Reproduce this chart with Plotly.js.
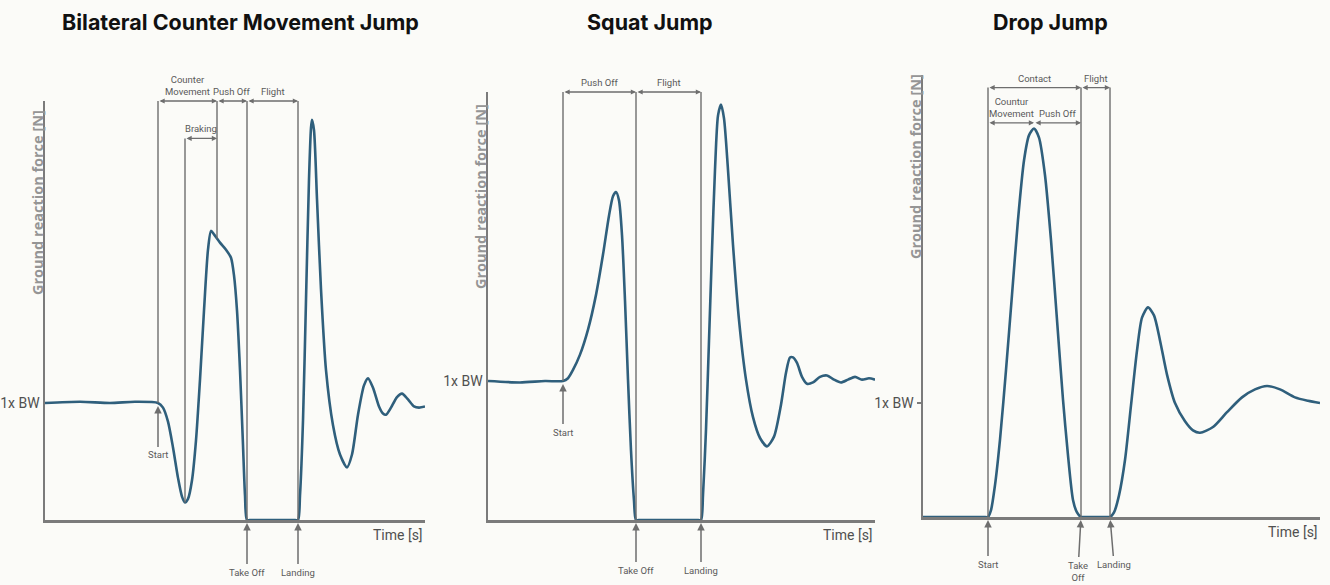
<!DOCTYPE html>
<html>
<head>
<meta charset="utf-8">
<script src="https://cdn.plot.ly/plotly-3.0.1.min.js"></script>
<style>html,body{margin:0;padding:0;background:#fbfbf8;}#chart{width:1330px;height:585px;}</style>
</head>
<body>
<div id="chart"></div>
<script>
// ---------- DATA (time in ms, force in multiples of body weight) ----------
const titles = ["Bilateral Counter Movement Jump", "Squat Jump", "Drop Jump"];
const yLabel = "Ground reaction force [N]";
const xLabel = "Time [s]";
const bwLabel = "1x BW";

// Bilateral counter movement jump
const cmjTime = [0,175,325,450,565,590,615,640,665,685,700,715,735,755,775,795,815,830,845,875,905,930,945,960,975,990,1000,1010,1030,1060,1140,1220,1245,1265,1275,1290,1305,1320,1330,1335,1345,1360,1380,1405,1440,1475,1510,1535,1565,1595,1615,1640,1670,1690,1705,1730,1760,1785,1815,1845,1870,1900];
const cmjForce = [1.00,1.01,1.00,1.01,1.00,0.96,0.84,0.62,0.36,0.20,0.15,0.18,0.34,0.68,1.20,1.79,2.31,2.47,2.44,2.37,2.31,2.24,2.09,1.79,1.28,0.64,0.21,0.00,0.00,0.00,0.00,0.00,0.00,0.00,0.21,0.85,1.88,2.91,3.35,3.42,3.33,2.74,1.97,1.28,0.81,0.56,0.45,0.56,0.90,1.15,1.21,1.13,0.97,0.91,0.90,0.96,1.05,1.08,1.03,0.97,0.96,0.97];
const cmjPhaseNames = ["Counter<br>Movement", "Push Off", "Flight"];
const cmjPhaseBounds = [565, 860, 1010, 1265];
const cmjSubPhaseName = "Braking";
const cmjSubPhaseBounds = [700, 860];
const cmjEventNames = ["Start", "Take Off", "Landing"];
const cmjEventTimes = [565, 1010, 1265];

// Squat jump
const sjTime = [0,160,285,375,400,425,460,500,540,575,605,625,640,655,670,685,700,715,730,740,760,800,900,1000,1045,1065,1075,1090,1105,1120,1135,1150,1165,1180,1200,1225,1255,1290,1325,1360,1395,1430,1465,1490,1510,1525,1545,1570,1595,1625,1660,1695,1730,1765,1800,1835,1870,1905,1935];
const sjForce = [1.00,0.99,1.00,1.00,1.02,1.08,1.19,1.37,1.62,1.91,2.19,2.33,2.36,2.30,2.05,1.58,1.01,0.50,0.14,0.00,0.00,0.00,0.00,0.00,0.00,0.00,0.18,0.65,1.29,1.94,2.52,2.91,2.99,2.89,2.52,1.98,1.44,1.01,0.74,0.59,0.53,0.60,0.83,1.06,1.17,1.17,1.13,1.03,0.98,0.99,1.03,1.04,1.01,0.99,1.01,1.03,1.01,1.02,1.01];
const sjPhaseNames = ["Push Off", "Flight"];
const sjPhaseBounds = [375, 740, 1065];
const sjEventNames = ["Start", "Take Off", "Landing"];
const sjEventTimes = [375, 740, 1065];

// Drop jump
const djTime = [0,80,160,240,305,325,340,360,385,415,445,475,505,530,555,580,610,640,670,700,725,750,770,790,810,860,915,935,955,980,1010,1040,1070,1095,1125,1155,1185,1220,1260,1310,1350,1385,1450,1520,1595,1660,1720,1785,1860,1925,1985];
const djForce = [0,0,0,0,0,0,0.06,0.28,0.68,1.29,1.95,2.61,3.13,3.35,3.41,3.33,3.00,2.43,1.73,1.03,0.54,0.15,0.04,0,0,0,0,0,0.04,0.19,0.50,0.98,1.46,1.75,1.84,1.77,1.55,1.25,1.00,0.84,0.76,0.74,0.79,0.92,1.05,1.12,1.15,1.12,1.05,1.02,1.00];
const djPhaseNames = ["Contact", "Flight"];
const djPhaseBounds = [325, 790, 935];
const djSubPhaseNames = ["Countur<br>Movement", "Push Off"];
const djSubPhaseBounds = [325, 555, 790];
const djEventNames = ["Start", "Take<br>Off", "Landing"];
const djEventTimes = [325, 790, 935];

// ---------- STYLE / GEOMETRY ----------
const W = 1330, H = 585;
const bg = "#fbfbf8";
const curveColor = "#2f5f7c";
const axisColor = "#7b7b7b";
const markColor = "#6e6e6e";
const textColor = "#5a5a5a";
const narrow = "Roboto, 'Liberation Sans', sans-serif";
const panels = [
  {x0:45,  x1:425,  base:520, top:101, ymax:3.58, xmax:1900, row1:3.58, row2:3.26, ylabX:37,  ylabY:203, titleX:240},
  {x0:488, x1:875,  base:520, top:92,  ymax:3.08, xmax:1935, row1:3.08, row2:null, ylabX:480, ylabY:197, titleX:650},
  {x0:923, x1:1320, base:517, top:75,  ymax:3.88, xmax:1985, row1:3.77, row2:3.46, ylabX:915, ylabY:167, titleX:1050}
];
const px = x => x / W;
const py = y => 1 - y / H;

function interp(ts, fs, t) {
  for (let i = 0; i < ts.length - 1; i++) {
    if (t >= ts[i] && t <= ts[i+1]) {
      const u = (t - ts[i]) / (ts[i+1] - ts[i] || 1);
      return fs[i] + u * (fs[i+1] - fs[i]);
    }
  }
  return fs[fs.length - 1];
}

const series = [[cmjTime, cmjForce], [sjTime, sjForce], [djTime, djForce]];
const traces = [];
const layout = {
  width: W, height: H, margin: {l:0, r:0, t:0, b:0},
  paper_bgcolor: bg, plot_bgcolor: bg, showlegend: false,
  annotations: [], shapes: []
};

panels.forEach((p, i) => {
  const n = i === 0 ? "" : String(i + 1);
  const xa = "x" + n, ya = "y" + n;
  traces.push({
    x: series[i][0], y: series[i][1], type: "scatter", mode: "lines",
    xaxis: xa, yaxis: ya, hoverinfo: "skip",
    line: {color: curveColor, width: 2.6, shape: "spline", smoothing: 0.7}
  });
  layout["xaxis" + n] = {
    domain: [px(p.x0), px(p.x1)], range: [0, p.xmax], anchor: ya,
    showline: true, linecolor: axisColor, linewidth: 2.5, layer: "below traces",
    showgrid: false, zeroline: false, showticklabels: false, ticks: "", fixedrange: true
  };
  layout["yaxis" + n] = {
    domain: [py(p.base), py(p.top)], range: [0, p.ymax], anchor: xa,
    showline: true, linecolor: axisColor, linewidth: 2.5, layer: "below traces",
    showgrid: false, zeroline: false, tickvals: [1], ticktext: [bwLabel],
    ticks: i === 2 ? "outside" : "", ticklen: 4, tickcolor: axisColor, tickwidth: 1.5,
    tickfont: {family: narrow, size: 14, color: "#505050"}, fixedrange: true
  };
  // title
  layout.annotations.push({text: "<b>" + titles[i] + "</b>", xref: "paper", yref: "paper",
    x: px(p.titleX), y: py(22), showarrow: false, xanchor: "center", yanchor: "middle",
    font: {family: "Inter, 'Open Sans', sans-serif", size: 21.5, color: "#111", weight: 800}});
  // y label
  layout.annotations.push({text: "<b>" + yLabel + "</b>", xref: "paper", yref: "paper",
    x: px(p.ylabX), y: py(p.ylabY), showarrow: false, textangle: -90,
    xanchor: "center", yanchor: "middle",
    font: {family: "'Open Sans', sans-serif", size: 14.5, color: "#959595"}});
  // x label
  layout.annotations.push({text: xLabel, xref: "paper", yref: "paper",
    x: px(p.x1), y: py(p.base + 15), showarrow: false, xanchor: "right", yanchor: "middle",
    font: {family: narrow, size: 14, color: "#505050"}});
});

function vline(n, t, y0, y1) {
  layout.shapes.push({type: "line", xref: "x" + n, yref: "y" + n, x0: t, x1: t, y0: y0, y1: y1,
    line: {color: markColor, width: 1.4}});
}
function dblArrow(n, t0, t1, y) {
  layout.annotations.push({text: "", xref: "x" + n, yref: "y" + n, axref: "x" + n, ayref: "y" + n,
    x: t1, y: y, ax: t0, ay: y, showarrow: true, arrowside: "end+start", arrowhead: 2,
    arrowsize: 0.8, arrowwidth: 1.3, arrowcolor: markColor, standoff: 0, startstandoff: 0});
}
function phaseLabel(n, t, y, text, shift) {
  layout.annotations.push({text: text, xref: "x" + n, yref: "y" + n, x: t, y: y,
    showarrow: false, yanchor: "bottom", yshift: shift, xanchor: "center",
    font: {family: narrow, size: 9.5, color: textColor}});
}
function event(n, t, y, text, ay, ax) {
  layout.annotations.push({text: text, xref: "x" + n, yref: "y" + n, x: t, y: y,
    ax: ax || 0, ay: ay, showarrow: true, arrowhead: 2, arrowsize: 1, arrowwidth: 1.5,
    arrowcolor: markColor, standoff: 3, startstandoff: 1,
    font: {family: narrow, size: 9.5, color: textColor}});
}

// Panel 1 marks
(function() {
  const p = panels[0], n = "";
  cmjPhaseBounds.forEach(t => vline(n, t, interp(cmjTime, cmjForce, t), p.row1));
  vline(n, cmjSubPhaseBounds[0], interp(cmjTime, cmjForce, cmjSubPhaseBounds[0]), p.row2);
  for (let k = 0; k < cmjPhaseNames.length; k++) {
    dblArrow(n, cmjPhaseBounds[k], cmjPhaseBounds[k+1], p.row1);
    phaseLabel(n, (cmjPhaseBounds[k] + cmjPhaseBounds[k+1]) / 2, p.row1, cmjPhaseNames[k], 2);
  }
  dblArrow(n, cmjSubPhaseBounds[0], cmjSubPhaseBounds[1], p.row2);
  phaseLabel(n, (cmjSubPhaseBounds[0] + cmjSubPhaseBounds[1]) / 2, p.row2, cmjSubPhaseName, 2);
  cmjEventTimes.forEach((t, k) => event(n, t, interp(cmjTime, cmjForce, t), cmjEventNames[k], 52));
})();

// Panel 2 marks
(function() {
  const p = panels[1], n = "2";
  sjPhaseBounds.forEach(t => vline(n, t, interp(sjTime, sjForce, t), p.row1));
  for (let k = 0; k < sjPhaseNames.length; k++) {
    dblArrow(n, sjPhaseBounds[k], sjPhaseBounds[k+1], p.row1);
    phaseLabel(n, (sjPhaseBounds[k] + sjPhaseBounds[k+1]) / 2, p.row1, sjPhaseNames[k], 2);
  }
  sjEventTimes.forEach((t, k) => event(n, t, interp(sjTime, sjForce, t), sjEventNames[k], k === 0 ? 51 : 50));
})();

// Panel 3 marks
(function() {
  const p = panels[2], n = "3";
  djPhaseBounds.forEach(t => vline(n, t, 0, p.row1));
  for (let k = 0; k < djPhaseNames.length; k++) {
    dblArrow(n, djPhaseBounds[k], djPhaseBounds[k+1], p.row1);
    phaseLabel(n, (djPhaseBounds[k] + djPhaseBounds[k+1]) / 2, p.row1, djPhaseNames[k], 2);
  }
  for (let k = 0; k < djSubPhaseNames.length; k++) {
    dblArrow(n, djSubPhaseBounds[k], djSubPhaseBounds[k+1], p.row2);
    phaseLabel(n, (djSubPhaseBounds[k] + djSubPhaseBounds[k+1]) / 2, p.row2, djSubPhaseNames[k], 2);
  }
  djEventTimes.forEach((t, k) => event(n, t, 0, djEventNames[k], k === 1 ? 54 : 47, k === 2 ? 4 : (k === 1 ? -3 : 0)));
})();

Plotly.newPlot("chart", traces, layout, {displayModeBar: false, staticPlot: true});
</script>
</body>
</html>
